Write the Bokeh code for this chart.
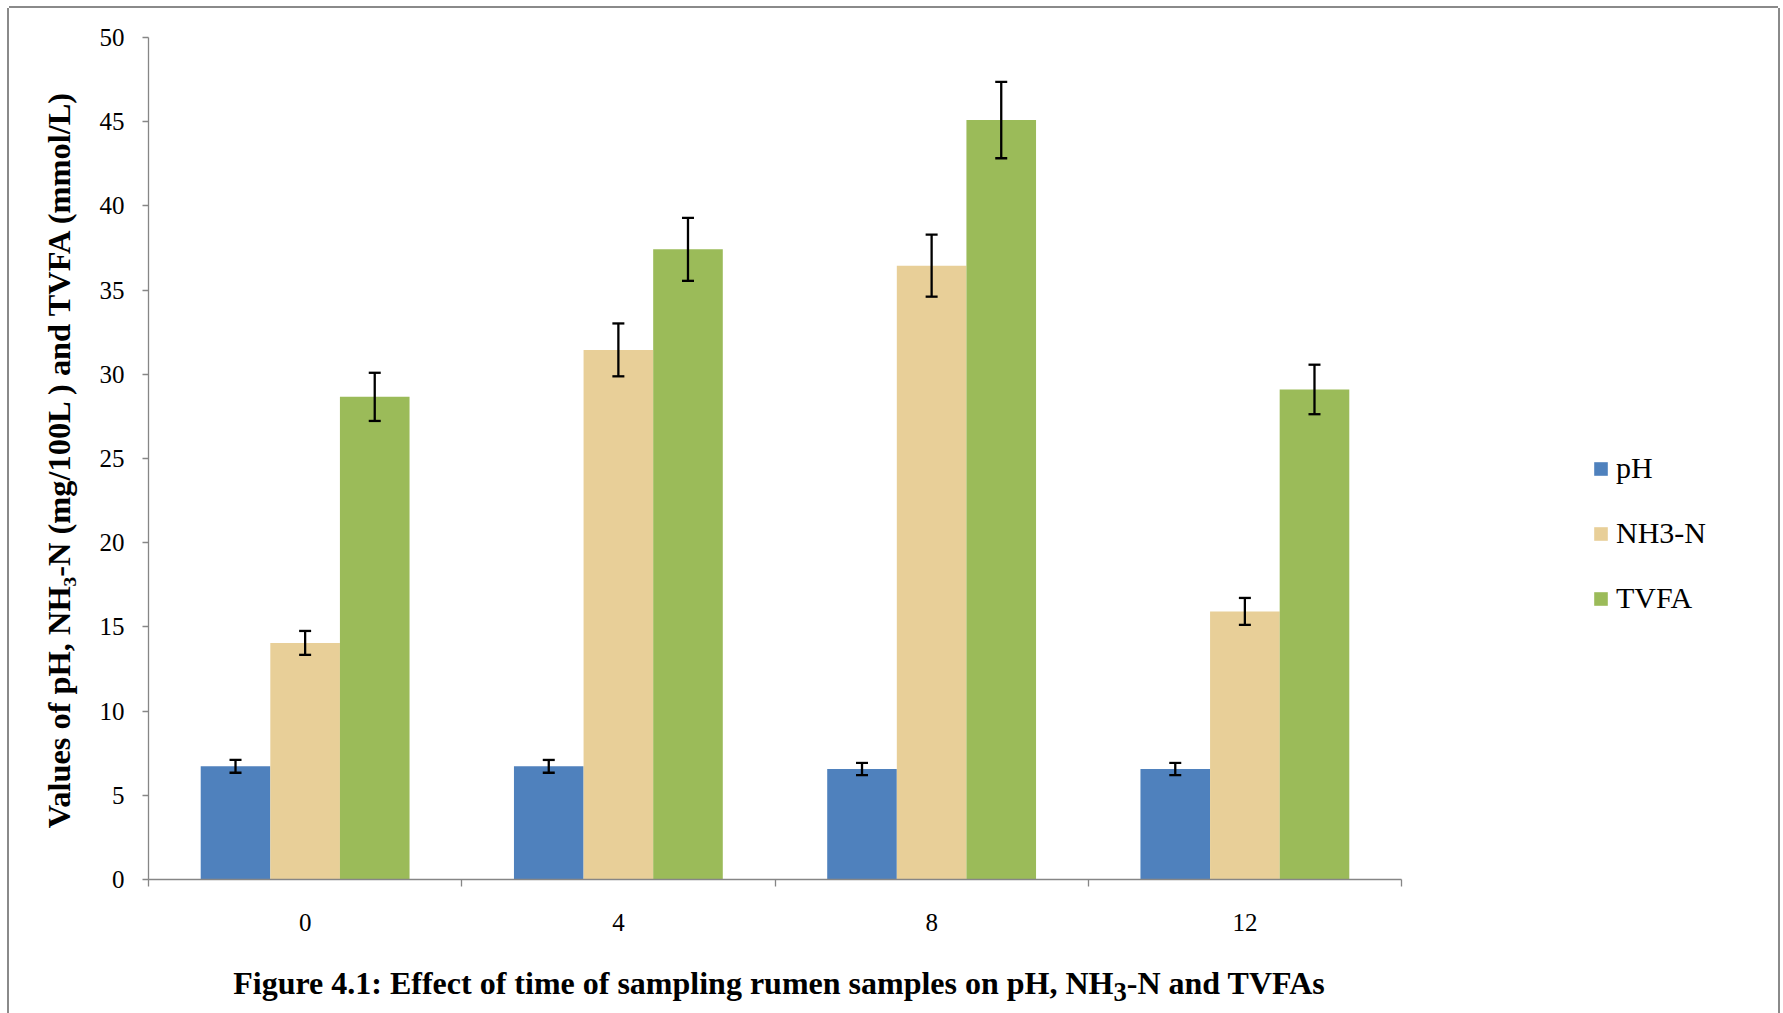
from bokeh.plotting import figure
from bokeh.models import (ColumnDataSource, Range1d, FixedTicker, Whisker, TeeHead,
                          Legend, LegendItem, Div)
from bokeh.layouts import column
from bokeh.embed import file_html
from bokeh.resources import INLINE

# ---- data ----
times = ["0", "4", "8", "12"]
series_names = ["pH", "NH3-N", "TVFA"]
ph = [6.72, 6.72, 6.56, 6.56]
ph_err = [0.38, 0.38, 0.36, 0.36]
nh3 = [14.05, 31.45, 36.45, 15.92]
nh3_err = [0.71, 1.57, 1.84, 0.80]
tvfa = [28.66, 37.42, 45.10, 29.10]
tvfa_err = [1.43, 1.87, 2.27, 1.47]
y_ticks = [0, 5, 10, 15, 20, 25, 30, 35, 40, 45, 50]
caption_html = ("Figure 4.1: Effect of time of sampling rumen samples on pH, "
                "NH<sub>3</sub>-N and TVFAs")

colors = ["#4F81BD", "#E8CF98", "#9BBB59"]
FONT = "Liberation Serif"
AXIS_COL = "#868686"

W, H = 1769, 941
LEFT, RIGHT, TOP, BOTTOM = 139, 10, 29, 70
AXIS_PX = 1253                      # pixel length of the category axis
frame_px = W - LEFT - RIGHT
x_end = len(times) * frame_px / AXIS_PX   # frame extends past the axis to hold the legend

p = figure(width=W, height=H, output_backend="svg", toolbar_location=None,
           x_range=Range1d(0, x_end), y_range=Range1d(0, 50),
           min_border_left=LEFT, min_border_right=RIGHT, min_border_top=TOP,
           min_border_bottom=BOTTOM)
p.outline_line_color = None
p.xgrid.visible = False
p.ygrid.visible = False
p.background_fill_color = "white"
p.border_fill_color = "white"

bw = 1 / 4.5
values = [ph, nh3, tvfa]
errors = [ph_err, nh3_err, tvfa_err]
items = []
for k, (name, vals, errs, col) in enumerate(zip(series_names, values, errors, colors)):
    xs = [i + 0.5 + (k - 1) * bw for i in range(len(times))]
    src = ColumnDataSource(dict(x=xs, top=vals,
                                upper=[v + e for v, e in zip(vals, errs)],
                                lower=[v - e for v, e in zip(vals, errs)]))
    r = p.vbar(x="x", top="top", width=bw, bottom=0, source=src,
               fill_color=col, line_color=None)
    w = Whisker(source=src, base="x", upper="upper", lower="lower", level="annotation",
                line_color="black", line_width=2.3,
                upper_head=TeeHead(size=12, line_width=2.3, line_color="black"),
                lower_head=TeeHead(size=12, line_width=2.3, line_color="black"))
    p.add_layout(w)
    items.append(LegendItem(label=name, renderers=[r]))

# x axis: labels at category centers, ticks at category boundaries
centers = [i + 0.5 for i in range(len(times))]
bounds = [i for i in range(len(times) + 1)]
xa = p.xaxis[0]
xa.bounds = (0, len(times))
xa.ticker = FixedTicker(ticks=centers, minor_ticks=bounds)
xa.major_label_overrides = {c: t for c, t in zip(centers, times)}
xa.major_tick_line_color = None
xa.major_tick_out = 0
xa.major_tick_in = 0
xa.minor_tick_out = 7
xa.minor_tick_in = 0
xa.minor_tick_line_color = AXIS_COL
xa.minor_tick_line_width = 1.3
xa.axis_line_color = AXIS_COL
xa.axis_line_width = 1.3
xa.major_label_standoff = 27
xa.major_label_text_font = FONT
xa.major_label_text_font_size = "25px"
xa.major_label_text_color = "black"

ya = p.yaxis[0]
ya.ticker = FixedTicker(ticks=y_ticks, minor_ticks=[])
ya.major_tick_out = 6
ya.major_tick_in = 0
ya.major_tick_line_color = AXIS_COL
ya.major_tick_line_width = 1.3
ya.minor_tick_line_color = None
ya.axis_line_color = AXIS_COL
ya.axis_line_width = 1.3
ya.major_label_standoff = 18
ya.major_label_text_font = FONT
ya.major_label_text_font_size = "25px"
ya.major_label_text_color = "black"
ya.axis_label = "Values of pH, NH\u2083-N (mg/100L ) and TVFA (mmol/L)"
ya.axis_label_text_font = FONT
ya.axis_label_text_font_size = "32.4px"
ya.axis_label_text_font_style = "bold"
ya.axis_label_text_color = "black"
ya.axis_label_standoff = 20

legend = Legend(items=items, location=(1444, 264), orientation="vertical",
                glyph_width=17, glyph_height=17, label_standoff=7, spacing=31,
                padding=0, margin=0, border_line_color=None, background_fill_alpha=0,
                label_text_font=FONT, label_text_font_size="30px", label_text_color="black")
p.add_layout(legend)

# figure caption, centred under the category axis
cap_w = 2 * (LEFT + AXIS_PX // 2)
cap = Div(text=caption_html, width=cap_w, height=60,
          styles={"font-family": FONT, "font-size": "32px", "font-weight": "bold",
                  "color": "black", "text-align": "center", "line-height": "40px",
                  "padding-top": "9px", "box-sizing": "border-box"})

layout = column(p, cap, spacing=0)
layout.styles = {"margin-left": "9px", "margin-top": "8px",
                 "box-shadow": "-2px 0 0 0 #8a8a8a, 2px 0 0 0 #8a8a8a, 0 -2px 0 0 #8a8a8a"}

open("out.html", "w").write(file_html(layout, INLINE))
